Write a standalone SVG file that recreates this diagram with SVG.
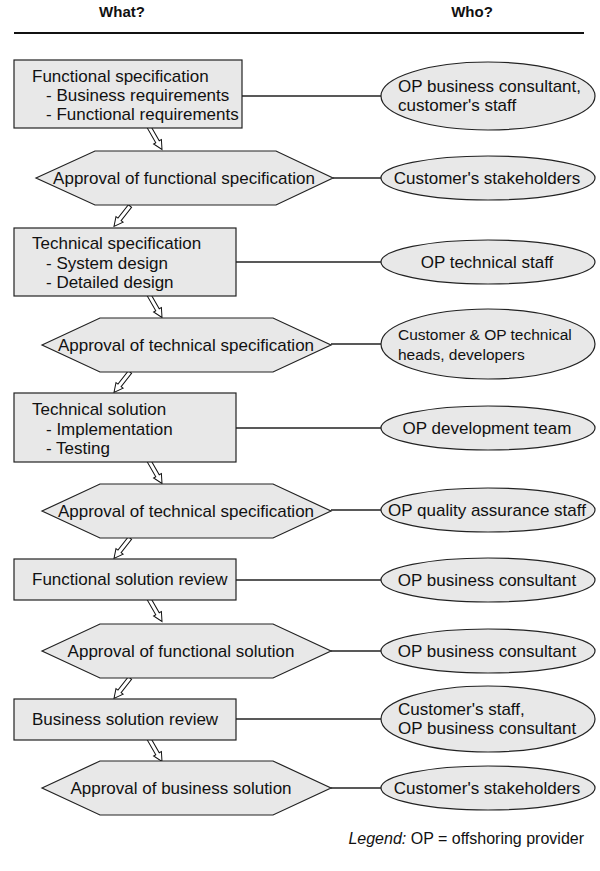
<svg xmlns="http://www.w3.org/2000/svg" width="600" height="871" viewBox="0 0 600 871">
<style>
text{font-family:"Liberation Sans",Arial,sans-serif;font-size:17px;fill:#111}
.hdr{font-weight:bold;font-size:15px;text-anchor:middle}
.shape{fill:#e8e8e8;stroke:#222;stroke-width:1.2}
.c{text-anchor:middle}
.sm{font-size:15.5px}
.conn line{stroke:#222;stroke-width:1.5}
.arr{fill:#fff;stroke:#111;stroke-width:1}
.leg{font-size:16px;text-anchor:end}
</style>
<defs>
<path id="ha" class="arr" d="M-2,0 L2,0 L2,17 L4.5,17 L0,26 L-4.5,17 L-2,17 Z"/>
</defs>
<rect width="600" height="871" fill="#fff"/>
<text class="hdr" x="122" y="17">What?</text>
<text class="hdr" x="472" y="17">Who?</text>
<line x1="14" y1="33" x2="584" y2="33" stroke="#111" stroke-width="2"/>

<g id="connectors" class="conn">
<line x1="242" y1="96" x2="381" y2="96"/>
<line x1="333" y1="178" x2="381" y2="178"/>
<line x1="236" y1="262" x2="381" y2="262"/>
<line x1="331" y1="344" x2="381" y2="344"/>
<line x1="236" y1="428" x2="381" y2="428"/>
<line x1="331" y1="510" x2="381" y2="510"/>
<line x1="236" y1="580" x2="381" y2="580"/>
<line x1="331" y1="651" x2="381" y2="651"/>
<line x1="236" y1="719" x2="381" y2="719"/>
<line x1="331" y1="788" x2="381" y2="788"/>
<use href="#ha" transform="translate(149,127) rotate(-30)"/>
<use href="#ha" transform="translate(130,206) rotate(38)"/>
<use href="#ha" transform="translate(149,295) rotate(-30)"/>
<use href="#ha" transform="translate(130,372) rotate(38)"/>
<use href="#ha" transform="translate(149,461) rotate(-30)"/>
<use href="#ha" transform="translate(130,538) rotate(38)"/>
<use href="#ha" transform="translate(149,599) rotate(-30)"/>
<use href="#ha" transform="translate(130,678) rotate(38)"/>
<use href="#ha" transform="translate(149,739) rotate(-30)"/>
</g>

<g id="n_funcspec">
<rect class="shape" x="14" y="60" width="228" height="68"/>
<text x="32" y="82">Functional specification</text>
<text x="46" y="101">- Business requirements</text>
<text x="46" y="120">- Functional requirements</text>
</g>
<g id="w_funcspec">
<ellipse class="shape" cx="488" cy="96" rx="107" ry="34"/>
<text x="398" y="92">OP business consultant,</text>
<text x="398" y="111">customer's staff</text>
</g>

<g id="n_appfuncspec">
<polygon class="shape" points="36,178 95,151 276,151 333,178 276,205 95,205"/>
<text class="c" x="184" y="184">Approval of functional specification</text>
</g>
<g id="w_appfuncspec">
<ellipse class="shape" cx="488" cy="178" rx="107" ry="22"/>
<text class="c" x="487" y="184">Customer's stakeholders</text>
</g>

<g id="n_techspec">
<rect class="shape" x="14" y="228" width="222" height="68"/>
<text x="32" y="249">Technical specification</text>
<text x="46" y="269">- System design</text>
<text x="46" y="288">- Detailed design</text>
</g>
<g id="w_techspec">
<ellipse class="shape" cx="488" cy="262" rx="107" ry="22"/>
<text class="c" x="487" y="268">OP technical staff</text>
</g>

<g id="n_apptechspec">
<polygon class="shape" points="42,345 100,318 273,318 331,345 273,372 100,372"/>
<text class="c" x="186" y="351">Approval of technical specification</text>
</g>
<g id="w_apptechspec">
<ellipse class="shape" cx="488" cy="344" rx="107" ry="35"/>
<text class="sm" x="398" y="340">Customer &amp; OP technical</text>
<text class="sm" x="398" y="360">heads, developers</text>
</g>

<g id="n_techsol">
<rect class="shape" x="14" y="393" width="222" height="69"/>
<text x="32" y="415">Technical solution</text>
<text x="46" y="435">- Implementation</text>
<text x="46" y="454">- Testing</text>
</g>
<g id="w_techsol">
<ellipse class="shape" cx="488" cy="428" rx="107" ry="22"/>
<text class="c" x="487" y="434">OP development team</text>
</g>

<g id="n_apptechsol">
<polygon class="shape" points="42,511 100,484 273,484 331,511 273,538 100,538"/>
<text class="c" x="186" y="517">Approval of technical specification</text>
</g>
<g id="w_apptechsol">
<ellipse class="shape" cx="488" cy="510" rx="107" ry="22"/>
<text class="c" x="487" y="516">OP quality assurance staff</text>
</g>

<g id="n_funcsolrev">
<rect class="shape" x="14" y="559" width="222" height="41"/>
<text x="32" y="585">Functional solution review</text>
</g>
<g id="w_funcsolrev">
<ellipse class="shape" cx="488" cy="580" rx="107" ry="22"/>
<text class="c" x="487" y="586">OP business consultant</text>
</g>

<g id="n_appfuncsol">
<polygon class="shape" points="42,651 100,624 273,624 331,651 273,678 100,678"/>
<text class="c" x="181" y="657">Approval of functional solution</text>
</g>
<g id="w_appfuncsol">
<ellipse class="shape" cx="488" cy="651" rx="107" ry="22"/>
<text class="c" x="487" y="657">OP business consultant</text>
</g>

<g id="n_bussolrev">
<rect class="shape" x="14" y="699" width="222" height="41"/>
<text x="32" y="725">Business solution review</text>
</g>
<g id="w_bussolrev">
<ellipse class="shape" cx="488" cy="719" rx="107" ry="33"/>
<text x="398" y="715">Customer's staff,</text>
<text x="398" y="734">OP business consultant</text>
</g>

<g id="n_appbussol">
<polygon class="shape" points="42,788 100,761 273,761 331,788 273,815 100,815"/>
<text class="c" x="181" y="794">Approval of business solution</text>
</g>
<g id="w_appbussol">
<ellipse class="shape" cx="488" cy="788" rx="107" ry="22"/>
<text class="c" x="487" y="794">Customer's stakeholders</text>
</g>

<text class="leg" x="584" y="844"><tspan font-style="italic">Legend:</tspan> OP = offshoring provider</text>
</svg>
